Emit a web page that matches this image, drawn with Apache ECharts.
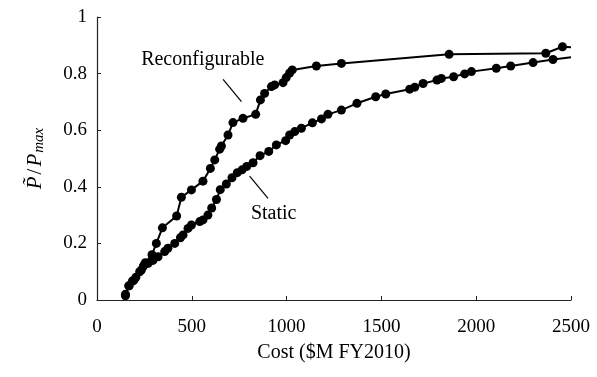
<!DOCTYPE html>
<html>
<head>
<meta charset="utf-8">
<script src="https://cdn.jsdelivr.net/npm/echarts@6/dist/echarts.min.js"></script>
<style>
  html, body { margin: 0; padding: 0; background: #fff; }
  #chart { width: 597px; height: 377px; }
</style>
</head>
<body>
<div id="chart"></div>
<script>
// Cost in $M FY2010 and normalised performance for each design family
const reconfigCost = [150, 167, 187, 205, 234, 245, 255, 290, 313, 345, 420, 445, 498, 559, 598, 621, 647, 656, 691, 717, 770, 837, 862, 884, 920, 937, 981, 998, 1016, 1030, 1157, 1289, 1857, 2367, 2455, 2500];
const reconfigPerf = [0.015, 0.05, 0.067, 0.08, 0.106, 0.12, 0.132, 0.16, 0.2, 0.255, 0.297, 0.363, 0.389, 0.42, 0.465, 0.495, 0.533, 0.544, 0.583, 0.627, 0.642, 0.656, 0.707, 0.73, 0.754, 0.76, 0.768, 0.786, 0.802, 0.813, 0.827, 0.836, 0.868, 0.872, 0.895, 0.893];

const staticCost = [150, 170, 195, 225, 250, 270, 295, 322, 357, 374, 410, 440, 454, 480, 498, 542, 559, 585, 605, 630, 650, 682, 712, 740, 765, 790, 823, 860, 906, 946, 995, 1016, 1043, 1078, 1136, 1184, 1218, 1289, 1371, 1470, 1523, 1649, 1676, 1720, 1793, 1816, 1881, 1939, 1975, 2106, 2182, 2300, 2405, 2500];
const staticPerf = [0.02, 0.05, 0.07, 0.1, 0.125, 0.13, 0.14, 0.153, 0.171, 0.183, 0.2, 0.22, 0.23, 0.253, 0.265, 0.277, 0.283, 0.3, 0.325, 0.355, 0.39, 0.41, 0.432, 0.45, 0.46, 0.472, 0.485, 0.51, 0.525, 0.548, 0.563, 0.583, 0.595, 0.607, 0.626, 0.64, 0.656, 0.671, 0.695, 0.718, 0.728, 0.745, 0.752, 0.765, 0.777, 0.783, 0.789, 0.799, 0.807, 0.819, 0.827, 0.839, 0.85, 0.858];

const xTicks = [0, 500, 1000, 1500, 2000, 2500];
const yTicks = [0, 0.2, 0.4, 0.6, 0.8, 1];

// Callout labels and their leader lines, in data coordinates
const callouts = [
  { text: 'Reconfigurable', at: [558, 0.848], from: [665, 0.78], to: [762, 0.701] },
  { text: 'Static', at: [932, 0.304], from: [805, 0.438], to: [902, 0.359] }
];

const FONT = '"Liberation Serif", "Times New Roman", serif';

// The last entry of each curve continues the line to the axis edge without a marker
function toPoints(xs, ys) {
  return xs.map((x, i) => {
    const p = { value: [x, ys[i]] };
    if (i === xs.length - 1) p.symbolSize = 0;
    return p;
  });
}

const chart = echarts.init(document.getElementById('chart'), null, { renderer: 'canvas' });

const lineSeries = (name, xs, ys) => ({
  name,
  type: 'line',
  data: toPoints(xs, ys),
  symbol: 'circle',
  symbolSize: 9,
  showAllSymbol: true,
  clip: false,
  itemStyle: { color: '#000' },
  lineStyle: { color: '#000', width: 2 },
  emphasis: { disabled: true },
  animation: false
});

chart.setOption({
  animation: false,
  backgroundColor: '#fff',
  grid: { left: 97, right: 26, top: 17, bottom: 77 },
  xAxis: {
    type: 'value',
    min: xTicks[0],
    max: xTicks[xTicks.length - 1],
    interval: 500,
    name: 'Cost ($M FY2010)',
    nameLocation: 'middle',
    nameGap: 43,
    nameTextStyle: { fontFamily: FONT, fontSize: 20, color: '#000' },
    axisLine: { lineStyle: { color: '#222', width: 1.2 } },
    axisTick: { inside: true, length: 4, lineStyle: { color: '#222' } },
    axisLabel: {
      fontFamily: FONT, fontSize: 19, color: '#000', margin: 18,
      formatter: v => String(v)
    },
    splitLine: { show: false }
  },
  yAxis: {
    type: 'value',
    min: yTicks[0],
    max: yTicks[yTicks.length - 1],
    interval: 0.2,
    name: '{i|P\u0303}{n|/}{i|P}{s|max}',
    nameLocation: 'middle',
    nameRotate: 90,
    nameGap: 50,
    nameTextStyle: {
      fontFamily: FONT, fontSize: 21, color: '#000',
      rich: {
        i: { fontFamily: FONT, fontStyle: 'italic', fontSize: 21, color: '#000' },
        n: { fontFamily: FONT, fontSize: 21, color: '#000', padding: [0, 2, 0, 2] },
        s: { fontFamily: FONT, fontStyle: 'italic', fontSize: 15, color: '#000', verticalAlign: 'bottom', padding: [9, 0, 0, 1] }
      }
    },
    axisLine: { show: true, lineStyle: { color: '#222', width: 1.2 } },
    axisTick: { show: true, inside: true, length: 4, lineStyle: { color: '#222' } },
    axisLabel: {
      fontFamily: FONT, fontSize: 19, color: '#000', margin: 10,
      formatter: v => String(Math.round(v * 10) / 10)
    },
    splitLine: { show: false }
  },
  series: [
    lineSeries('Reconfigurable', reconfigCost, reconfigPerf),
    lineSeries('Static', staticCost, staticPerf)
  ]
});

// Place the callouts through the chart's own coordinate conversion
const graphics = [];
callouts.forEach(c => {
  const t = chart.convertToPixel({ gridIndex: 0 }, c.at);
  const a = chart.convertToPixel({ gridIndex: 0 }, c.from);
  const b = chart.convertToPixel({ gridIndex: 0 }, c.to);
  graphics.push({
    type: 'line',
    shape: { x1: a[0], y1: a[1], x2: b[0], y2: b[1] },
    style: { stroke: '#000', lineWidth: 1.2 },
    silent: true
  });
  graphics.push({
    type: 'text',
    x: t[0], y: t[1],
    style: { text: c.text, fontFamily: FONT, fontSize: 20, fill: '#000', align: 'center', verticalAlign: 'middle' },
    silent: true
  });
});
chart.setOption({ graphic: graphics });
</script>
</body>
</html>
